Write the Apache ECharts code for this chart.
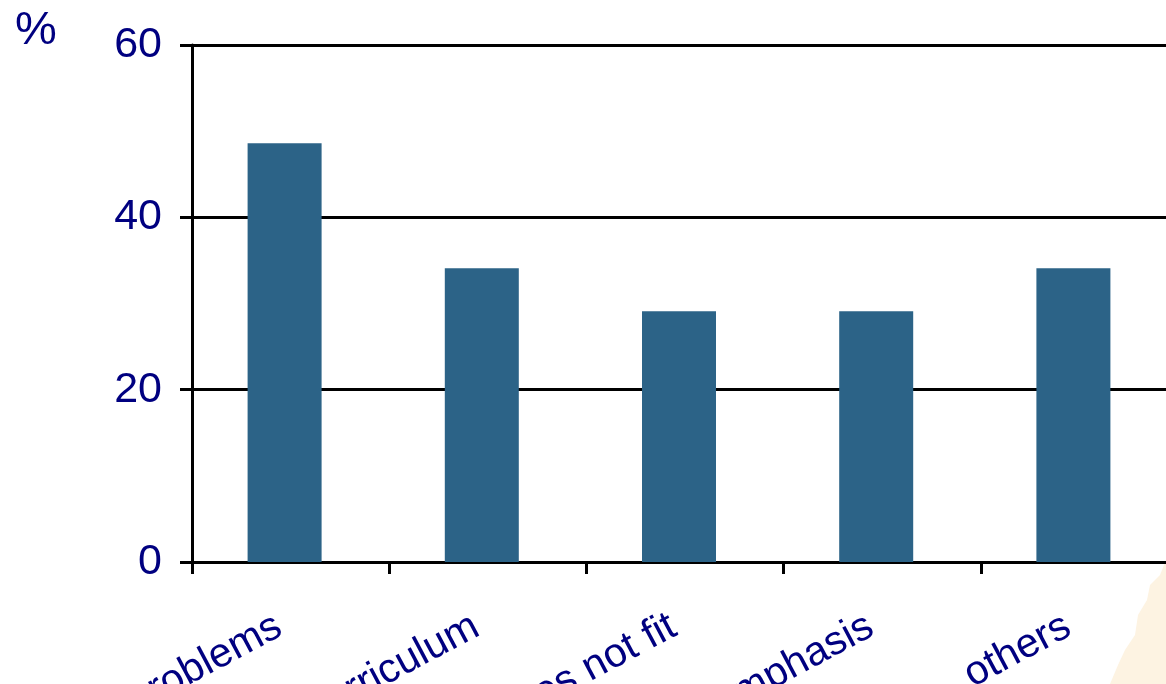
<!DOCTYPE html>
<html>
<head>
<meta charset="utf-8">
<style>
  html, body { margin: 0; padding: 0; background: #ffffff; }
  #chart { width: 1166px; height: 684px; }
</style>
<script src="https://cdn.jsdelivr.net/npm/echarts@6/dist/echarts.min.js"></script>
</head>
<body>
<div id="chart"></div>
<script>
// Reasons given, share of respondents in percent
const categories = ['Time problems', 'Overloaded curriculum', 'Timetable does not fit', 'Different emphasis', 'others'];
const percentValues = [48.6, 34.1, 29.1, 29.1, 34.1];
const yTicks = { min: 0, max: 60, interval: 20 };

const navy = '#000080';
const barColor = '#2c6387';
const font = '"Liberation Sans", Arial, sans-serif';

const chart = echarts.init(document.getElementById('chart'), null, { renderer: 'canvas' });

chart.setOption({
  backgroundColor: '#ffffff',
  animation: false,
  grid: { left: 192, right: -12, top: 45, bottom: 122, containLabel: false, outerBoundsMode: 'none' },
  graphic: [
    {
      // warm paper tint in the lower right corner
      type: 'polygon',
      z: -10,
      shape: { points: [[1166, 560], [1160, 575], [1150, 585], [1147, 600], [1138, 615], [1135, 635], [1125, 650], [1118, 665], [1110, 684], [1166, 684]] },
      style: { fill: '#fdf3e2' }
    },
    {
      type: 'text',
      left: 15,
      top: 8,
      style: { text: '%', fill: navy, fontSize: 47, fontFamily: font }
    }
  ],
  xAxis: {
    type: 'category',
    data: categories,
    axisLine: { show: true, lineStyle: { color: '#000', width: 3 } },
    axisTick: { show: true, length: 12, lineStyle: { color: '#000', width: 3 }, alignWithLabel: false },
    axisLabel: {
      color: navy,
      fontFamily: font,
      fontSize: 41,
      rotate: 28,
      margin: 56,
      padding: [0, 13, 0, 0],
      interval: 0
    },
    splitLine: { show: false }
  },
  yAxis: {
    type: 'value',
    min: yTicks.min,
    max: yTicks.max,
    interval: yTicks.interval,
    axisLine: { show: true, lineStyle: { color: '#000', width: 3 } },
    axisTick: { show: true, length: 12, lineStyle: { color: '#000', width: 3 } },
    axisLabel: { color: navy, fontFamily: font, fontSize: 43, margin: 30 },
    splitLine: { show: true, lineStyle: { color: '#000', width: 3 } }
  },
  series: [
    {
      type: 'bar',
      data: percentValues,
      barWidth: 74,
      barGap: 0,
      itemStyle: { color: barColor }
    },
    {
      // empty companion slot, keeps the bars slightly left of centre
      type: 'bar',
      data: categories.map(() => null),
      barWidth: 12,
      itemStyle: { color: 'rgba(0,0,0,0)' }
    }
  ]
});
</script>
</body>
</html>
